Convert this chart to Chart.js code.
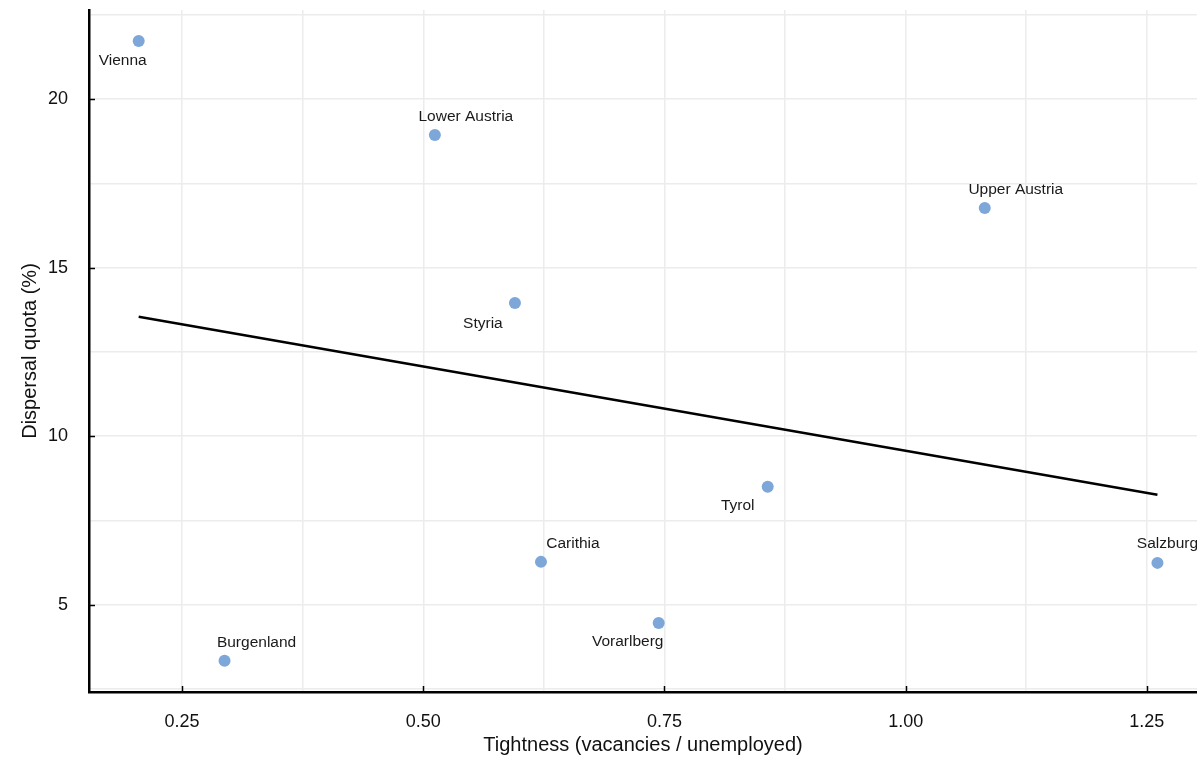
<!DOCTYPE html>
<html>
<head>
<meta charset="utf-8">
<script src="https://cdn.jsdelivr.net/npm/chart.js@4.4.1/dist/chart.umd.min.js"></script>
<style>
  html, body { margin: 0; padding: 0; background: #ffffff; overflow: hidden; }
  #wrap { width: 1197px; height: 757px; position: relative; }
</style>
</head>
<body>
<div id="wrap"><canvas id="chart"></canvas></div>
<script>
// Regions of Austria: labour-market tightness vs. dispersal quota
const regions    = ['Vienna', 'Lower Austria', 'Upper Austria', 'Styria', 'Tyrol', 'Carithia', 'Salzburg', 'Vorarlberg', 'Burgenland'];
const tightness  = [0.205, 0.512, 1.082, 0.595, 0.857, 0.622, 1.261, 0.744, 0.294];
const dispersal  = [21.72, 18.93, 16.77, 13.95, 8.50, 6.27, 6.24, 4.46, 3.34];

// Fitted trend line (endpoints)
const trendX = [0.205, 1.261];
const trendY = [13.54, 8.26];

// Axis ticks: gridlines at every value, labels only on the major ones
const xGrid   = [0.25, 0.375, 0.5, 0.625, 0.75, 0.875, 1.0, 1.125, 1.25];
const xMajor  = [0.25, 0.5, 0.75, 1.0, 1.25];
const yGrid   = [2.5, 5, 7.5, 10, 12.5, 15, 17.5, 20, 22.5];
const yMajor  = [5, 10, 15, 20];

// Where each region's name sits relative to its marker (px)
const labelPlacement = [
  [-16, 20], [31, -18], [31, -18], [-32, 21], [-30, 19],
  [32, -18], [10, -19], [-31, 19], [32, -18]
];

const FONT = "'Liberation Sans', Arial, sans-serif";

const scatterData = regions.map((r, i) => ({ x: tightness[i], y: dispersal[i] }));
const trendData = trendX.map((x, i) => ({ x: x, y: trendY[i] }));

const regionLabels = {
  id: 'regionLabels',
  afterDatasetsDraw(chart) {
    const ctx = chart.ctx;
    const meta = chart.getDatasetMeta(1);
    ctx.save();
    ctx.font = '15.5px ' + FONT;
    ctx.fillStyle = '#1a1a1a';
    ctx.textAlign = 'center';
    ctx.textBaseline = 'middle';
    meta.data.forEach((pt, i) => {
      const off = labelPlacement[i];
      ctx.fillText(regions[i], pt.x + off[0], pt.y + off[1]);
    });
    ctx.restore();
  }
};

// Short inward tick marks on the major values
const innerTicks = {
  id: 'innerTicks',
  afterDraw(chart) {
    const ctx = chart.ctx;
    const area = chart.chartArea;
    const xs = chart.scales.x, ys = chart.scales.y;
    ctx.save();
    ctx.strokeStyle = '#000';
    ctx.lineWidth = 1.5;
    ctx.beginPath();
    xMajor.forEach(v => {
      const px = Math.round(xs.getPixelForValue(v)) + 0.5;
      ctx.moveTo(px, area.bottom);
      ctx.lineTo(px, area.bottom - 6);
    });
    yMajor.forEach(v => {
      const py = Math.round(ys.getPixelForValue(v)) + 0.5;
      ctx.moveTo(area.left, py);
      ctx.lineTo(area.left + 6, py);
    });
    ctx.stroke();
    ctx.restore();
  }
};

const fitX = s => {
  s.paddingTop = 0; s.paddingBottom = 0; s.paddingLeft = 0; s.paddingRight = 0;
  s.height = 65;
};
const fitY = s => {
  s.paddingTop = 0; s.paddingBottom = 0; s.paddingLeft = 0; s.paddingRight = 0;
  s.width = 79;
};

new Chart(document.getElementById('chart'), {
  type: 'scatter',
  data: {
    datasets: [
      {
        type: 'line',
        data: trendData,
        borderColor: '#000000',
        borderWidth: 2.5,
        pointRadius: 0,
        fill: false,
        order: 2
      },
      {
        data: scatterData,
        backgroundColor: '#7da6d9',
        borderWidth: 0,
        pointRadius: 6,
        pointHoverRadius: 6,
        order: 1
      }
    ]
  },
  options: {
    responsive: true,
    maintainAspectRatio: false,
    animation: false,
    events: [],
    layout: { autoPadding: false, padding: { top: 10, right: 0, left: 10, bottom: 0 } },
    plugins: {
      legend: { display: false },
      tooltip: { enabled: false }
    },
    scales: {
      x: {
        type: 'linear',
        min: 0.1535,
        max: 1.302,
        afterBuildTicks: s => { s.ticks = xGrid.map(v => ({ value: v })); },
        afterFit: fitX,
        ticks: {
          autoSkip: false,
          maxRotation: 0,
          padding: 19,
          color: '#111',
          font: { family: FONT, size: 18 },
          callback: v => xMajor.some(m => Math.abs(m - v) < 1e-9) ? Number(v).toFixed(2) : ''
        },
        grid: { color: '#ececec', lineWidth: 1.5, drawTicks: false },
        border: { color: '#000', width: 2.5 },
        title: {
          display: true,
          text: 'Tightness (vacancies / unemployed)',
          color: '#111',
          font: { family: FONT, size: 20 },
          padding: { top: 4, bottom: 0 }
        }
      },
      y: {
        type: 'linear',
        min: 2.41,
        max: 22.64,
        afterBuildTicks: s => { s.ticks = yGrid.map(v => ({ value: v })); },
        afterFit: fitY,
        ticks: {
          autoSkip: false,
          padding: 21,
          color: '#111',
          font: { family: FONT, size: 18 },
          callback: v => yMajor.includes(v) ? String(v) : ''
        },
        grid: { color: '#ececec', lineWidth: 1.5, drawTicks: false },
        border: { color: '#000', width: 2.5 },
        title: {
          display: true,
          text: 'Dispersal quota (%)',
          color: '#111',
          font: { family: FONT, size: 20 },
          padding: { top: 8, bottom: 4 }
        }
      }
    }
  },
  plugins: [regionLabels, innerTicks]
});
</script>
</body>
</html>
